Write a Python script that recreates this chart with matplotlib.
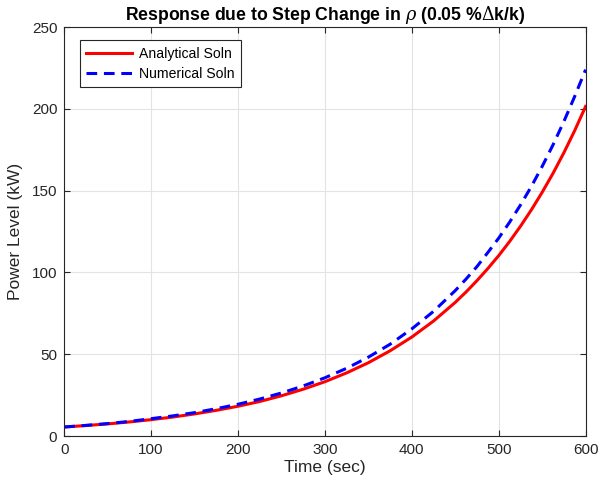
import matplotlib
matplotlib.use('Agg')
import matplotlib.pyplot as plt

# values (kW vs sec)
time = [0, 25, 50, 75, 100, 125, 150, 175, 200, 225, 250, 275, 300,
        325, 350, 375, 400, 425, 450, 462.5, 475, 487.5, 500, 512.5, 525,
        537.5, 550, 562.5, 575, 587.5, 600]
analytical = [5.5, 6.4, 7.4, 8.6, 10.0, 11.6, 13.5, 15.7, 18.2, 21.1, 24.6, 28.6, 33.2,
              38.6, 44.8, 52.1, 60.5, 70.3, 81.7, 88.1, 95.0, 102.4, 110.3, 118.9, 128.2,
              138.2, 149.0, 160.6, 173.2, 186.8, 201.5]
numerical = [5.5, 6.5, 7.6, 8.9, 10.6, 12.3, 14.3, 16.7, 19.4, 22.6, 26.3, 30.6, 35.6,
             41.4, 48.2, 56.1, 65.5, 76.2, 88.9, 96.0, 103.6, 112.2, 121.0, 130.7, 141.2,
             152.5, 164.8, 178.0, 192.3, 207.7, 224.0]

plt.rcParams['font.family'] = ['Liberation Sans', 'DejaVu Sans']
plt.rcParams['mathtext.fontset'] = 'dejavuserif'

fig = plt.figure(figsize=(6.0, 4.93), dpi=100)
ax = fig.add_axes([0.107, 0.1156, 0.869, 0.8294])

ax.plot(time, analytical, '-', color='red', lw=2.2, label='Analytical Soln')
ax.plot(time, numerical, '--', color='blue', lw=2.2, dashes=(3.5, 2.2), label='Numerical Soln')

ax.set_xlim(0, 600)
ax.set_ylim(0, 250)
ax.set_xticks(range(0, 601, 100))
ax.set_yticks(range(0, 251, 50))
ax.grid(True, color='#e3e3e3', lw=0.8)
ax.set_axisbelow(True)
ax.tick_params(direction='in', length=4, labelsize=11, colors='#262626', top=True, right=True,
               labeltop=False, labelright=False, pad=5)
for s in ax.spines.values():
    s.set_color('#262626')
    s.set_linewidth(0.8)

ax.set_xlabel('Time (sec)', fontsize=12.5, color='#262626', labelpad=2)
ax.set_ylabel('Power Level (kW)', fontsize=12.5, color='#262626', labelpad=6)
ax.set_title(r'Response due to Step Change in $\rho$ (0.05 %$\Delta$k/k)', fontsize=12.7,
             fontweight='bold', pad=5)

leg = ax.legend(loc='upper left', bbox_to_anchor=(0.0298, 0.968), borderaxespad=0,
                fancybox=False, edgecolor='#262626', fontsize=10.1, handlelength=3.3,
                handletextpad=0.45, borderpad=0.45, labelspacing=0.45, framealpha=1)
leg.get_frame().set_linewidth(0.8)

fig.savefig('out.png', dpi=100)
